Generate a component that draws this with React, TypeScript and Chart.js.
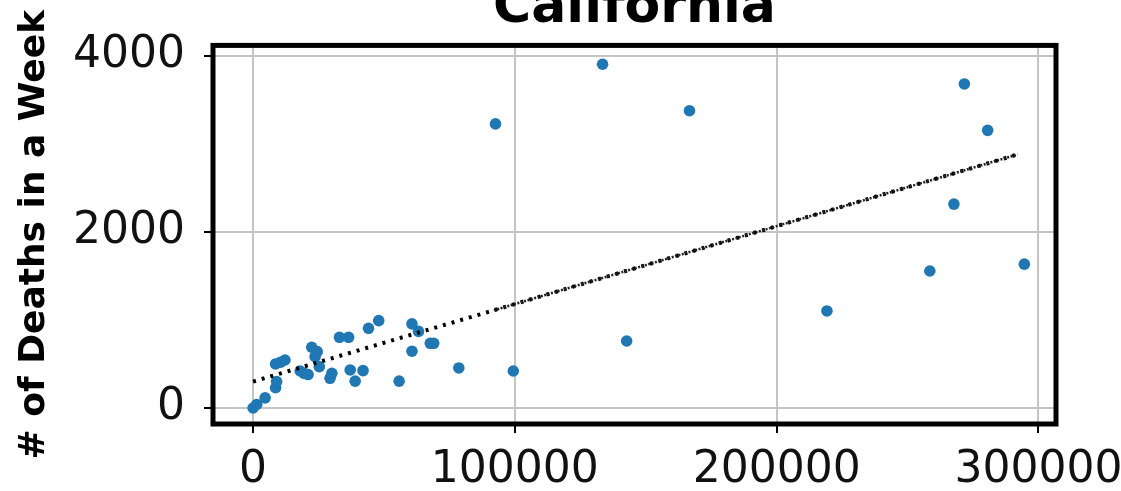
import React, { useEffect, useRef } from 'react';
import { Chart, registerables } from 'chart.js';

Chart.register(...registerables);

const chartTitle = 'California';
const yAxisTitle = '# of Deaths in a Week';

// weekly cases (x) vs weekly deaths (y)
const weeklyCases = [
  0, 1400, 4600, 8600, 9000, 8600, 10500, 12200, 18000, 19500, 21000, 22400, 23700,
  24500, 25300, 29400, 30100, 33000, 36500, 37100, 39000, 42000, 44100, 48000,
  55800, 60700, 60700, 63200, 67700, 69000, 78600, 92600, 99400, 133500, 142700,
  166700, 219200, 258500, 267700, 271700, 280600, 294600,
];
const weeklyDeaths = [
  0, 40, 115, 230, 300, 500, 520, 545, 420, 394, 380, 690, 583,
  640, 470, 337, 394, 803, 803, 432, 305, 424, 905, 992,
  305, 955, 645, 870, 735, 735, 455, 3227, 420, 3905, 761,
  3377, 1102, 1556, 2316, 3681, 3154, 1634,
];

// fitted trend line
const fitCases = [0, 92000, 292000];
const fitDeaths = [300, 1110, 2880];
const fitDenseCases = [92000, 292000];
const fitDenseDeaths = [1110, 2880];

const xTickValues = [0, 100000, 200000, 300000];
const yTickValues = [0, 2000, 4000];

const framePlugin = {
  id: 'axesFrame',
  afterDatasetsDraw(chart: any) {
    const { ctx, chartArea: a } = chart;
    ctx.save();
    ctx.strokeStyle = '#000';
    ctx.lineWidth = 5;
    ctx.strokeRect(a.left, a.top, a.right - a.left, a.bottom - a.top);
    ctx.restore();
  },
};

export default function App() {
  const canvasRef = useRef<HTMLCanvasElement | null>(null);

  useEffect(() => {
    const canvas = canvasRef.current;
    if (!canvas) return;
    const tickFont = { family: 'DejaVu Sans', size: 44 };
    const chart = new Chart(canvas, {
      type: 'scatter',
      data: {
        datasets: [
          {
            label: 'deaths',
            data: weeklyCases.map((x, i) => ({ x, y: weeklyDeaths[i] })),
            backgroundColor: '#1f77b4',
            borderColor: '#1f77b4',
            borderWidth: 0,
            pointRadius: 5.8,
            order: 2,
          },
          {
            type: 'line',
            label: 'fit',
            data: fitCases.map((x, i) => ({ x, y: fitDeaths[i] })),
            borderColor: '#000',
            borderWidth: 4,
            borderDash: [3, 6],
            pointRadius: 0,
            fill: false,
            order: 1,
          },
          {
            type: 'line',
            label: 'fit-dense',
            data: fitDenseCases.map((x, i) => ({ x, y: fitDenseDeaths[i] })),
            borderColor: '#222',
            borderWidth: 2.5,
            borderDash: [2, 1.5],
            pointRadius: 0,
            fill: false,
            order: 0,
          },
        ],
      } as any,
      options: {
        animation: false,
        responsive: false,
        maintainAspectRatio: false,
        layout: { padding: { left: 0, right: 65, top: 0, bottom: 0 } },
        plugins: {
          legend: { display: false },
          tooltip: { enabled: false },
          title: {
            display: true,
            text: chartTitle,
            fullSize: false,
            color: '#000',
            font: { family: 'DejaVu Sans', size: 52, weight: 'bold', lineHeight: 1.2 },
            padding: { top: -23, bottom: 6 },
          },
        },
        scales: {
          x: {
            type: 'linear',
            min: -15300,
            max: 306700,
            afterBuildTicks: (axis: any) => {
              axis.ticks = xTickValues.map((v) => ({ value: v }));
            },
            afterFit: (axis: any) => {
              axis.height = 67;
              axis.paddingLeft = 0;
              axis.paddingRight = 0;
            },
            ticks: {
              color: '#111',
              font: tickFont,
              padding: 11,
              maxRotation: 0,
              autoSkip: false,
              callback: (v: any) => String(v),
            },
            grid: {
              color: '#c4c4c4',
              lineWidth: 2,
              tickColor: '#000',
              tickLength: 9,
              tickWidth: 2,
            },
            border: { display: false },
          },
          y: {
            type: 'linear',
            min: -182,
            max: 4119,
            afterBuildTicks: (axis: any) => {
              axis.ticks = yTickValues.map((v) => ({ value: v }));
            },
            afterFit: (axis: any) => {
              axis.width = 213;
            },
            title: {
              display: true,
              text: yAxisTitle,
              color: '#000',
              font: { family: 'DejaVu Sans', size: 36, weight: 'bold', lineHeight: 1.2 },
              padding: { top: 13, bottom: 0 },
            },
            ticks: {
              color: '#111',
              font: tickFont,
              padding: 19,
              autoSkip: false,
              callback: (v: any) => String(v),
            },
            grid: {
              color: '#c4c4c4',
              lineWidth: 2,
              tickColor: '#000',
              tickLength: 9,
              tickWidth: 2,
            },
            border: { display: false },
          },
        },
      } as any,
      plugins: [framePlugin],
    });
    return () => chart.destroy();
  }, []);

  return (
    <div style={{ position: 'absolute', left: 0, top: 0, width: 1121, height: 491, background: '#fff' }}>
      <canvas ref={canvasRef} width={1121} height={491} style={{ display: 'block', width: 1121, height: 491 }} />
    </div>
  );
}
